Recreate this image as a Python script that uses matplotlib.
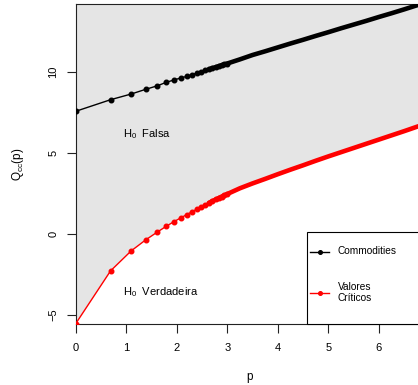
import matplotlib
matplotlib.use("Agg")
import matplotlib.pyplot as plt
from matplotlib.patches import Rectangle
from matplotlib.lines import Line2D

plt.rcParams['font.family'] = ['Liberation Sans', 'DejaVu Sans']
plt.rcParams['mathtext.fontset'] = 'custom'
plt.rcParams['mathtext.rm'] = 'Liberation Sans'
plt.rcParams['mathtext.it'] = 'Liberation Sans:italic'

# valores (p em escala log)
p_vals = [0.0, 0.693, 1.099, 1.386, 1.609, 1.792, 1.946, 2.079, 2.197, 2.303,
          2.398, 2.485, 2.565, 2.639, 2.708, 2.773, 2.833, 2.890, 2.944, 2.996,
          3.25, 3.5, 3.75, 4.0, 4.25, 4.5, 4.75, 5.0, 5.25, 5.5,
          5.75, 6.0, 6.25, 6.5, 6.75, 6.9]
commodities = [7.57, 8.29, 8.64, 8.93, 9.14, 9.36, 9.51, 9.63, 9.73, 9.84,
               9.93, 10.02, 10.10, 10.17, 10.24, 10.30, 10.36, 10.42, 10.47, 10.52,
               10.78, 11.05, 11.28, 11.52, 11.76, 11.99, 12.23, 12.46, 12.70, 12.93,
               13.16, 13.40, 13.63, 13.87, 14.12, 14.26]
criticos = [-5.56, -2.28, -1.05, -0.37, 0.10, 0.47, 0.76, 0.99, 1.19, 1.37,
            1.53, 1.67, 1.80, 1.92, 2.03, 2.13, 2.22, 2.31, 2.39, 2.46,
            2.82, 3.12, 3.40, 3.69, 3.97, 4.24, 4.52, 4.79, 5.05, 5.31,
            5.57, 5.83, 6.09, 6.35, 6.62, 6.77]
x_ticks = [0, 1, 2, 3, 4, 5, 6]
y_ticks = [-5, 0, 5, 10]

W, H = 418, 385
fig = plt.figure(figsize=(W / 100, H / 100), dpi=100)
# area do grafico em pixels: x 75.5..424.5, y 4..324 (cortada a direita)
L, R, T, B = 75.5, 424.5, 4, 324
ax = fig.add_axes([L / W, 1 - B / H, (R - L) / W, (B - T) / H])
ax.set_xlim(0, 6.9)
ax.set_ylim(-5.56, 14.2)

ax.fill_between(p_vals, criticos, 20, color='#e5e5e5', lw=0, zorder=1)

n_sep = 20    # pontos ainda separados
n_dense = 13  # a partir daqui os pontos se sobrepoem
for y, c in [(commodities, 'black'), (criticos, 'red')]:
    ax.plot(p_vals, y, color=c, lw=1.0, zorder=3)
    ax.plot(p_vals[:n_sep], y[:n_sep], 'o', color=c, ms=3.3, zorder=4)
    ax.plot(p_vals[n_dense:], y[n_dense:], color=c, lw=3.3,
            solid_capstyle='round', zorder=4)

for s in ['top', 'left', 'bottom']:
    ax.spines[s].set_linewidth(0.8)
    ax.spines[s].set_color('#222222')
ax.spines['right'].set_visible(False)

ax.set_xticks(x_ticks)
ax.set_yticks(y_ticks)
ax.set_xticklabels([str(v) for v in x_ticks])
ax.set_yticklabels([str(v).replace('-', '\u2212') for v in y_ticks],
                   rotation=90, va='center')
ax.tick_params(direction='out', length=6.5, width=0.8, labelsize=8,
               color='#222222')
ax.tick_params(axis='x', pad=7)
ax.tick_params(axis='y', pad=6)

fig.text(250 / W, 1 - 377 / H, 'p', ha='center', va='center', fontsize=8.5)
fig.text(18 / W, 1 - 164 / H, r'$\mathrm{Q}_{\mathrm{cc}}\mathrm{(p)}$',
         rotation=90, ha='center', va='center', fontsize=8.5)

ax.text(0.94, 5.99, r'H$_0$  Falsa', fontsize=8, va='baseline', zorder=5)
ax.text(0.94, -3.81, r'H$_0$  Verdadeira', fontsize=8, va='baseline', zorder=5)

# legenda desenhada a mao (canto inferior direito)
def ax_x(px):
    return (px - L) / (R - L)

def ax_y(py):
    return (B - py) / (B - T)

ax.add_patch(Rectangle((ax_x(307.3), 0), 1.0, ax_y(232.3), transform=ax.transAxes,
                       facecolor='white', edgecolor='black', lw=0.8,
                       zorder=6, clip_on=False))
for py, c in [(251.5, 'black'), (292.7, 'red')]:
    ax.add_line(Line2D([ax_x(310), ax_x(329)], [ax_y(py), ax_y(py)],
                       transform=ax.transAxes, color=c, lw=1.0, zorder=7))
    ax.add_line(Line2D([ax_x(319.5)], [ax_y(py)], transform=ax.transAxes,
                       color=c, marker='o', ms=2.6, zorder=7))
ax.text(ax_x(337.7), ax_y(251.5), 'Commodities', transform=ax.transAxes,
        fontsize=7.3, va='center', zorder=7)
ax.text(ax_x(337.7), ax_y(292.5), 'Valores\nCríticos', transform=ax.transAxes,
        fontsize=7.3, va='center', linespacing=1.1, zorder=7)

fig.savefig('out.png', dpi=100)
